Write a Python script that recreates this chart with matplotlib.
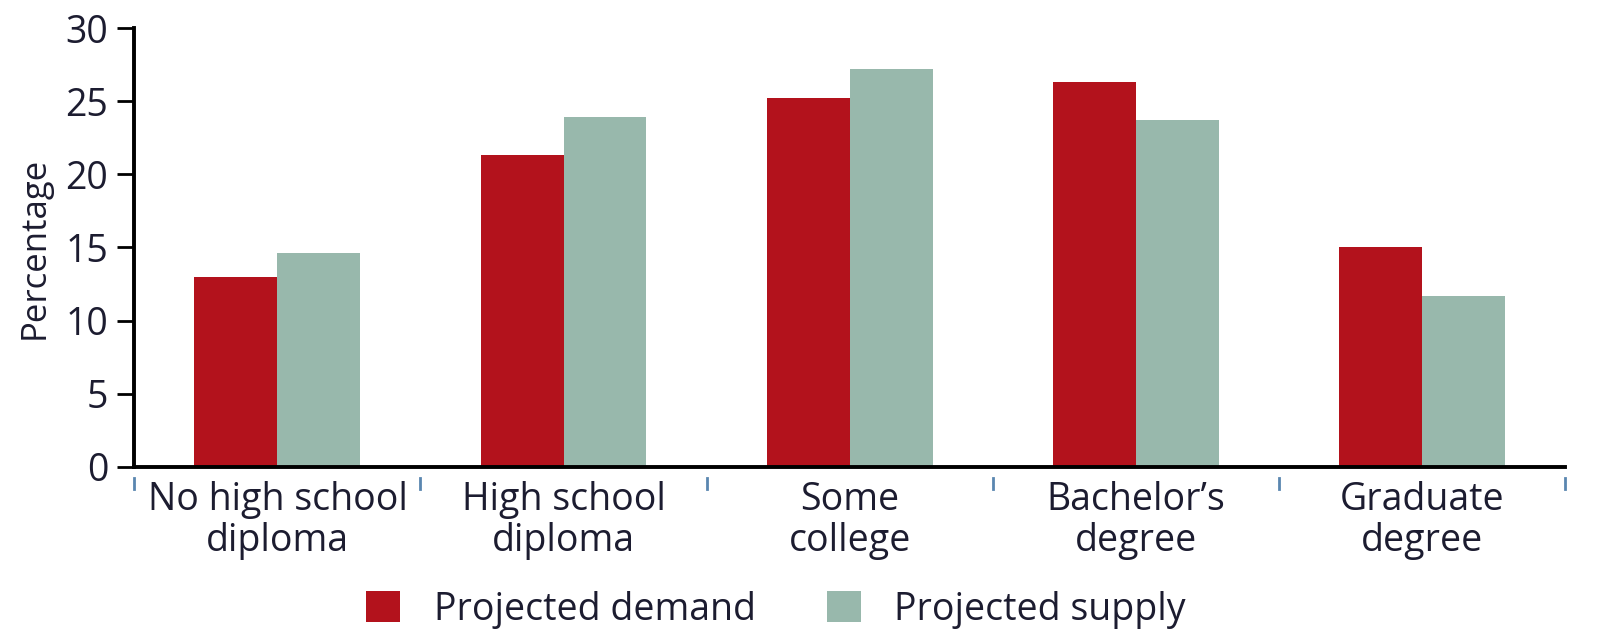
import matplotlib
matplotlib.use("Agg")
import matplotlib.pyplot as plt
import matplotlib.transforms as mtransforms
import numpy as np

# Chart data
categories = ["No high school\ndiploma", "High school\ndiploma", "Some\ncollege",
              "Bachelor\u2019s\ndegree", "Graduate\ndegree"]
demand = [13.0, 21.3, 25.2, 26.3, 15.0]
supply = [14.6, 23.9, 27.2, 23.7, 11.7]
series_names = ["Projected demand", "Projected supply"]

red = "#b3121c"
green = "#98b8ac"
text_color = "#1c1c30"

plt.rcParams["font.family"] = ["Open Sans", "DejaVu Sans"]

fig = plt.figure(figsize=(16, 6.44), dpi=100)
ax = fig.add_axes([0.084, 0.275, 0.894, 0.6815])

x = np.arange(len(categories))
w = 0.29
ax.bar(x - w / 2, demand, width=w, color=red, label=series_names[0])
ax.bar(x + w / 2, supply, width=w, color=green, label=series_names[1])

ax.set_xlim(-0.5, len(categories) - 0.5)
ax.set_ylim(0, 30)
ax.set_yticks(range(0, 31, 5))

for side in ["top", "right"]:
    ax.spines[side].set_visible(False)
ax.spines["left"].set_linewidth(2.8)
ax.spines["bottom"].set_linewidth(2.8)

ax.tick_params(axis="y", length=12, width=2, pad=7, labelsize=27, labelcolor=text_color)
ax.set_xticks(x)
ax.set_xticklabels(categories, linespacing=1.1)
ax.tick_params(axis="x", length=0, pad=10, labelsize=27, labelcolor=text_color)

ax.set_ylabel("Percentage", fontsize=25, color=text_color, labelpad=10)

# small separator marks below the axis between categories
trans = mtransforms.blended_transform_factory(ax.transData, ax.transAxes)
for b in np.arange(-0.5, len(categories), 1.0):
    ax.plot([b, b], [-0.025, -0.05], color="#5a86b0", lw=2, transform=trans, clip_on=False)

fig.legend(loc="center", bbox_to_anchor=(0.485, 0.053), ncol=2, frameon=False,
           fontsize=27, handlelength=0.9, handleheight=0.9, handletextpad=0.9,
           columnspacing=1.9, labelcolor=text_color)

fig.savefig("out.png", dpi=100)
